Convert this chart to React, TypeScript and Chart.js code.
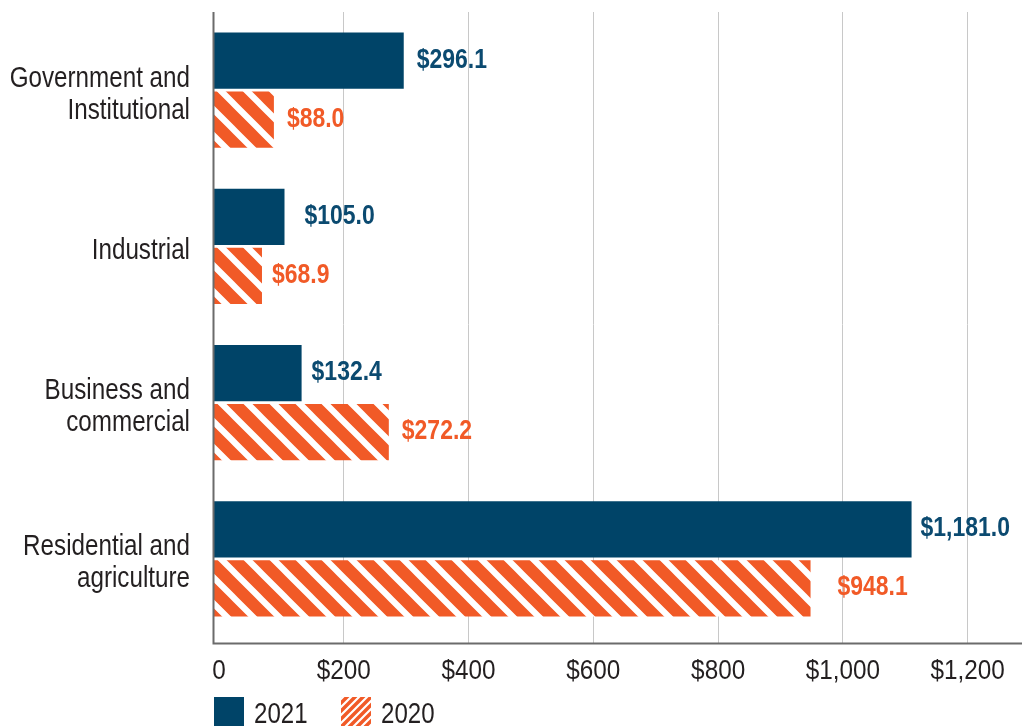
import { useEffect, useRef } from "react";
import { Chart, registerables } from "chart.js";

Chart.register(...registerables);

// ---- data ----
const categories = [
  ["Government and", "Institutional"],
  ["Industrial"],
  ["Business and", "commercial"],
  ["Residential and", "agriculture"],
];
const seriesNames = ["2021", "2020"];
// values stated in the value labels
const values2021 = [296.1, 105.0, 132.4, 1181.0];
const values2020 = [88.0, 68.9, 272.2, 948.1];
// bar lengths as drawn in the reference (the 2021 residential bar is drawn short of its label)
const drawn2021 = [296.1, 105.0, 132.4, 1110.0];
const xTicks = [0, 200, 400, 600, 800, 1000, 1200];

// ---- style ----
const NAVY = "#004468";
const NAVY_TEXT = "#0b4a70";
const ORANGE = "#f15a27";
const TEXT = "#231f20";
const FAMILY = '"Liberation Sans", Arial, sans-serif';
const X_MIN = -8;
const X_MAX = 1287;
// gap (px) between bar end and its value label, as placed in the reference
const labelGap2021 = [13, 20, 10, 9];
const labelGap2020 = [13, 10, 13, 27];

function makeStripes(
  ctx: CanvasRenderingContext2D,
  fg: string,
  bg: string,
  period: number,
  width: number,
  dir: "back" | "fwd"
) {
  const c = document.createElement("canvas");
  c.width = period;
  c.height = period;
  const g = c.getContext("2d")!;
  g.fillStyle = fg;
  g.fillRect(0, 0, period, period);
  g.strokeStyle = bg;
  g.lineWidth = width;
  g.beginPath();
  for (const k of [-2, -1, 0, 1, 2]) {
    if (dir === "back") {
      g.moveTo(k * period - period, -period);
      g.lineTo(k * period + 2 * period, 2 * period);
    } else {
      g.moveTo(k * period - period, 2 * period);
      g.lineTo(k * period + 2 * period, -period);
    }
  }
  g.stroke();
  return ctx.createPattern(c, "repeat")!;
}

const fmtValue = (v: number) =>
  "$" + v.toLocaleString("en-US", { minimumFractionDigits: 1, maximumFractionDigits: 1 });
const fmtTick = (v: number) => (v === 0 ? "0" : "$" + v.toLocaleString("en-US"));

// condensed text: a regular face squeezed horizontally
function drawText(
  c: CanvasRenderingContext2D,
  text: string,
  x: number,
  y: number,
  font: string,
  color: string,
  align: CanvasTextAlign,
  squeeze: number
) {
  c.save();
  c.font = font;
  c.fillStyle = color;
  c.textAlign = align;
  c.textBaseline = "alphabetic";
  c.translate(x, y);
  c.scale(squeeze, 1);
  c.fillText(text, 0, 0);
  c.restore();
}

export default function App() {
  const ref = useRef<HTMLCanvasElement>(null);

  useEffect(() => {
    document.body.style.margin = "0";
    const canvas = ref.current!;
    const ctx = canvas.getContext("2d")!;
    const pat2020 = makeStripes(ctx, ORANGE, "#ffffff", 26, 6.2, "back");
    const patLegend = makeStripes(ctx, ORANGE, "#ffffff", 8, 2.2, "fwd");

    const framePlugin = {
      id: "frame",
      afterDatasetsDraw(chart: any) {
        const { ctx: c, chartArea } = chart;
        c.save();
        c.strokeStyle = "#6b6b6b";
        c.lineWidth = 2;
        c.beginPath();
        c.moveTo(chartArea.left - 0.5, chartArea.top);
        c.lineTo(chartArea.left - 0.5, chartArea.bottom + 7.5);
        c.moveTo(chartArea.left - 1.5, chartArea.bottom + 6.5);
        c.lineTo(chartArea.right, chartArea.bottom + 6.5);
        c.stroke();
        c.restore();
      },
    };

    const axisTextPlugin = {
      id: "axisText",
      afterDraw(chart: any) {
        const c = chart.ctx;
        const xs = chart.scales.x;
        const ys = chart.scales.y;
        const bottom = chart.chartArea.bottom;
        xs.ticks.forEach((t: any) => {
          drawText(c, fmtTick(t.value), xs.getPixelForValue(t.value), bottom + 42, `27px ${FAMILY}`, TEXT, "center", 0.9);
        });
        const right = chart.chartArea.left - 24;
        categories.forEach((lines, i) => {
          const cy = ys.getPixelForTick(i);
          lines.forEach((ln, j) => {
            const by = cy + 12.5 - (lines.length - 1) * 16 + j * 32;
            drawText(c, ln, right, by, `29px ${FAMILY}`, TEXT, "right", 0.835);
          });
        });
      },
    };

    const labelPlugin = {
      id: "valueLabels",
      afterDatasetsDraw(chart: any) {
        const c = chart.ctx;
        const sets = [
          { vals: values2021, gaps: labelGap2021, color: NAVY_TEXT },
          { vals: values2020, gaps: labelGap2020, color: ORANGE },
        ];
        sets.forEach((s, di) => {
          const meta = chart.getDatasetMeta(di);
          meta.data.forEach((el: any, i: number) => {
            drawText(c, fmtValue(s.vals[i]), el.x + s.gaps[i], el.y + 7, `bold 28px ${FAMILY}`, s.color, "left", 0.82);
          });
        });
      },
    };

    const legendPlugin = {
      id: "customLegend",
      afterDraw(chart: any) {
        const c = chart.ctx;
        const left = chart.chartArea.left;
        const top = 697;
        c.save();
        c.fillStyle = NAVY;
        c.fillRect(left, top, 30, 30);
        c.fillStyle = patLegend;
        c.fillRect(left + 127, top, 30, 30);
        c.restore();
        drawText(c, seriesNames[0], left + 40, 723, `29px ${FAMILY}`, TEXT, "left", 0.83);
        drawText(c, seriesNames[1], left + 167, 723, `29px ${FAMILY}`, TEXT, "left", 0.83);
      },
    };

    const chart = new Chart(canvas, {
      type: "bar",
      data: {
        labels: categories.map((l) => l.join(" ")),
        datasets: [
          {
            label: seriesNames[0],
            data: drawn2021,
            backgroundColor: NAVY,
            base: X_MIN,
          } as any,
          {
            label: seriesNames[1],
            data: values2020,
            backgroundColor: pat2020,
            base: X_MIN,
          } as any,
        ],
      },
      options: {
        indexAxis: "y",
        responsive: false,
        animation: false,
        layout: { padding: { top: 12, left: 0, right: 0, bottom: 0 } },
        datasets: { bar: { categoryPercentage: 0.755, barPercentage: 0.95 } } as any,
        plugins: { legend: { display: false }, tooltip: { enabled: false } },
        scales: {
          x: {
            type: "linear",
            min: X_MIN,
            max: X_MAX,
            afterBuildTicks: (s: any) => {
              s.ticks = xTicks.map((v) => ({ value: v }));
            },
            afterFit: (s: any) => {
              s.height = 89;
              s.paddingLeft = 0;
              s.paddingRight = 0;
            },
            grid: {
              color: (c: any) =>
                c.tick && c.tick.value === 0 ? "rgba(0,0,0,0)" : "#c8c8c8",
              lineWidth: 1,
              tickLength: 6,
              drawTicks: true,
            },
            border: { display: false },
            ticks: { display: false },
          },
          y: {
            grid: { display: false, drawTicks: false },
            border: { display: false },
            afterFit: (s: any) => {
              s.width = 214;
              s.paddingTop = 0;
              s.paddingBottom = 0;
            },
            ticks: { display: false },
          },
        },
      } as any,
      plugins: [framePlugin, labelPlugin, axisTextPlugin, legendPlugin],
    });
    return () => chart.destroy();
  }, []);

  return <canvas ref={ref} width={1022} height={726} style={{ display: "block" }} />;
}
